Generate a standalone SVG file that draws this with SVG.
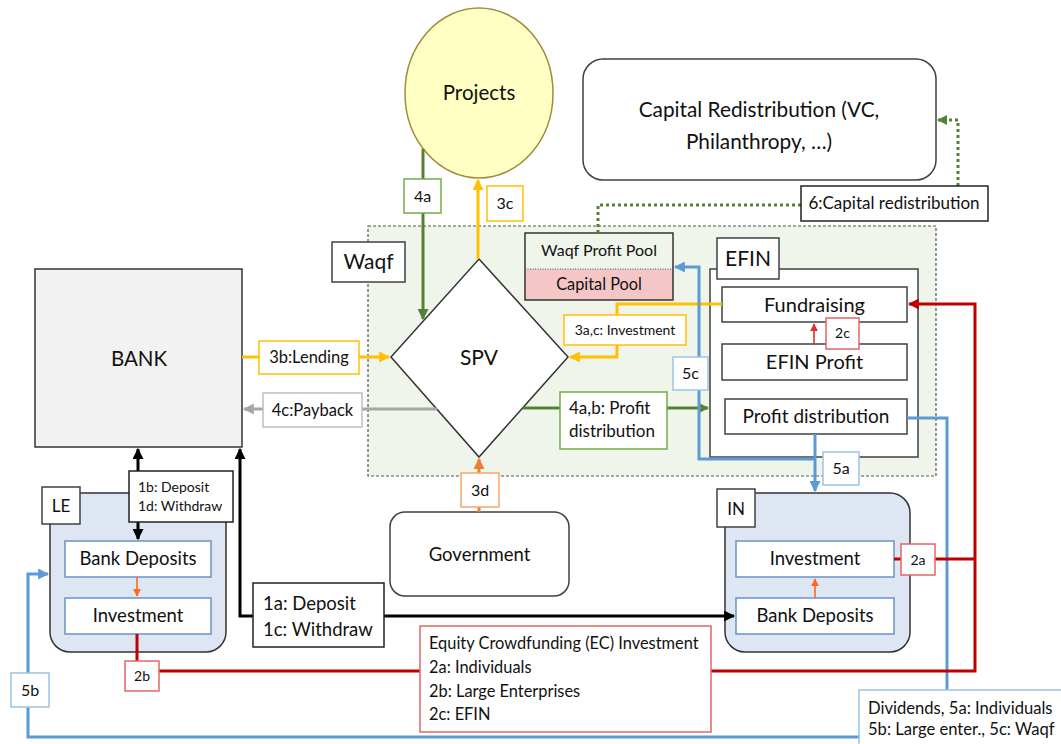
<svg xmlns="http://www.w3.org/2000/svg" width="1061" height="744" viewBox="0 0 1061 744">
  <style>
    text { font-family: Lato, "Liberation Sans", sans-serif; fill: #111; }
    .c { text-anchor: middle; }
    .box { fill: #fff; stroke: #404040; stroke-width: 1.5; }
    .inbox { fill: #fff; stroke: #6A93C8; stroke-width: 1.5; }
    .lbl-y { fill: #fff; stroke: #FFC000; stroke-width: 1.5; }
    .lbl-g { fill: #fff; stroke: #70AD47; stroke-width: 1.5; }
    .lbl-gr { fill: #fff; stroke: #BFBFBF; stroke-width: 1.5; }
    .lbl-b { fill: #fff; stroke: #9DC3E6; stroke-width: 1.5; }
    .lbl-r { fill: #fff; stroke: #E06666; stroke-width: 1.5; }
    .lbl-o { fill: #fff; stroke: #F4A66A; stroke-width: 1.5; }
    .lbl-k { fill: #fff; stroke: #222; stroke-width: 1.5; }
    .ln { fill: none; stroke-width: 3; }
  </style>
  <defs>
    <marker id="ah-y" viewBox="0 0 10 10" refX="9" refY="5" markerWidth="11" markerHeight="11" markerUnits="userSpaceOnUse" orient="auto-start-reverse"><path d="M0,0 L10,5 L0,10 z" fill="#FFC000"/></marker>
    <marker id="ah-g" viewBox="0 0 10 10" refX="9" refY="5" markerWidth="11" markerHeight="11" markerUnits="userSpaceOnUse" orient="auto-start-reverse"><path d="M0,0 L10,5 L0,10 z" fill="#548235"/></marker>
    <marker id="ah-gr" viewBox="0 0 10 10" refX="9" refY="5" markerWidth="11" markerHeight="11" markerUnits="userSpaceOnUse" orient="auto-start-reverse"><path d="M0,0 L10,5 L0,10 z" fill="#A6A6A6"/></marker>
    <marker id="ah-b" viewBox="0 0 10 10" refX="9" refY="5" markerWidth="11" markerHeight="11" markerUnits="userSpaceOnUse" orient="auto-start-reverse"><path d="M0,0 L10,5 L0,10 z" fill="#5B9BD5"/></marker>
    <marker id="ah-r" viewBox="0 0 10 10" refX="9" refY="5" markerWidth="11" markerHeight="11" markerUnits="userSpaceOnUse" orient="auto-start-reverse"><path d="M0,0 L10,5 L0,10 z" fill="#C00000"/></marker>
    <marker id="ah-k" viewBox="0 0 10 10" refX="9" refY="5" markerWidth="11" markerHeight="11" markerUnits="userSpaceOnUse" orient="auto-start-reverse"><path d="M0,0 L10,5 L0,10 z" fill="#000"/></marker>
    <marker id="ah-o" viewBox="0 0 10 10" refX="9" refY="5" markerWidth="11" markerHeight="11" markerUnits="userSpaceOnUse" orient="auto-start-reverse"><path d="M0,0 L10,5 L0,10 z" fill="#ED7D31"/></marker>
    <marker id="ah-os" viewBox="0 0 10 10" refX="9" refY="5" markerWidth="8" markerHeight="8" markerUnits="userSpaceOnUse" orient="auto-start-reverse"><path d="M0,0 L10,5 L0,10 z" fill="#FF6A1A"/></marker>
    <marker id="ah-rs" viewBox="0 0 10 10" refX="9" refY="5" markerWidth="8" markerHeight="8" markerUnits="userSpaceOnUse" orient="auto-start-reverse"><path d="M0,0 L10,5 L0,10 z" fill="#E03030"/></marker>
    <marker id="ah-gd" viewBox="0 0 10 10" refX="9" refY="5" markerWidth="10" markerHeight="10" markerUnits="userSpaceOnUse" orient="auto-start-reverse"><path d="M0,0 L10,5 L0,10 z" fill="#548235"/></marker>
  </defs>

  <rect width="1061" height="744" fill="#fff"/>

  <!-- Waqf container -->
  <g id="waqf">
    <rect x="368" y="226" width="568" height="250" fill="#F0F5EC" stroke="#555" stroke-width="1.2" stroke-dasharray="3,2"/>
    <rect x="332" y="242" width="73" height="40" class="box"/>
    <text x="368.5" y="269" class="c" font-size="21">Waqf</text>
  </g>

  <g id="projects">
    <ellipse cx="479" cy="93" rx="74" ry="85" fill="#FFFFC4" stroke="#A08C3C" stroke-width="1.5"/>
    <text x="479" y="100" class="c" font-size="20.5">Projects</text>
  </g>

  <g id="capital-redistribution">
    <rect x="583" y="59" width="353" height="121" rx="20" class="box"/>
    <text x="759" y="117" class="c" font-size="20.8">Capital Redistribution (VC,</text>
    <text x="759" y="149" class="c" font-size="20.8">Philanthropy, …)</text>
  </g>

  <g id="bank">
    <rect x="35" y="269" width="207" height="178" fill="#F2F2F2" stroke="#333" stroke-width="1.5"/>
    <text x="139" y="366" class="c" font-size="20.5">BANK</text>
  </g>

  <g id="spv">
    <polygon points="479,259 568,357 479,457 391,357" fill="#fff" stroke="#333" stroke-width="1.5"/>
    <text x="479" y="365" class="c" font-size="21">SPV</text>
  </g>

  <g id="waqf-pools">
    <rect x="525" y="269" width="148" height="31" fill="#F4C6C6"/>
    <rect x="525" y="233" width="148" height="67" fill="none" stroke="#333" stroke-width="1.5"/>
    <line x1="525" y1="269" x2="673" y2="269" stroke="#555" stroke-width="1" stroke-dasharray="1,1.5"/>
    <text x="599" y="256" class="c" font-size="16">Waqf Profit Pool</text>
    <text x="599" y="290" class="c" font-size="16.3">Capital Pool</text>
  </g>

  <g id="efin">
    <rect x="710" y="269" width="208" height="188" class="box"/>
    <rect x="717" y="238" width="62" height="41" class="box"/>
    <text x="748" y="266" class="c" font-size="21">EFIN</text>
    <rect x="722" y="287" width="185" height="35" class="box"/>
    <text x="814.5" y="312" class="c" font-size="20">Fundraising</text>
    <rect x="722" y="344" width="185" height="36" class="box"/>
    <text x="814.5" y="369" class="c" font-size="20">EFIN Profit</text>
    <rect x="725" y="399" width="182" height="35" class="box"/>
    <text x="816" y="423" class="c" font-size="19">Profit distribution</text>
  </g>

  <g id="le">
    <rect x="50" y="493" width="176" height="159" rx="20" fill="#DFE6F3" stroke="#333" stroke-width="1.5"/>
    <rect x="65" y="541" width="146" height="36" class="inbox"/>
    <text x="138" y="565" class="c" font-size="18.5">Bank Deposits</text>
    <rect x="65" y="598" width="146" height="36" class="inbox"/>
    <text x="138" y="622" class="c" font-size="18.5">Investment</text>
  </g>

  <g id="in">
    <rect x="725" y="493" width="185" height="159" rx="20" fill="#DFE6F3" stroke="#333" stroke-width="1.5"/>
    <rect x="736" y="541" width="158" height="36" class="inbox"/>
    <text x="815" y="565" class="c" font-size="18.5">Investment</text>
    <rect x="736" y="598" width="158" height="36" class="inbox"/>
    <text x="815" y="622" class="c" font-size="18.5">Bank Deposits</text>
  </g>

  <g id="government">
    <rect x="390" y="512" width="179" height="84" rx="15" class="box"/>
    <text x="479.5" y="561" class="c" font-size="18.5">Government</text>
  </g>

  <!-- connectors -->
  <g id="connectors">
    <path class="ln" d="M423,149 V319" stroke="#548235" marker-end="url(#ah-g)"/>
    <path class="ln" d="M478,259 V180" stroke="#FFC000" marker-end="url(#ah-y)"/>
    <path class="ln" d="M242,357 H389" stroke="#FFC000" marker-end="url(#ah-y)"/>
    <path class="ln" d="M722,304 H617 V357 H570" stroke="#FFC000" marker-end="url(#ah-y)"/>
    <path class="ln" d="M437,409 H244" stroke="#A6A6A6" marker-end="url(#ah-gr)"/>
    <path class="ln" d="M523,408 H708" stroke="#548235" marker-end="url(#ah-g)"/>
    <path class="ln" d="M479,512 V459" stroke="#ED7D31" marker-end="url(#ah-o)"/>
    <path class="ln" d="M598,233 V205 H801" stroke="#548235" stroke-dasharray="3,3"/>
    <path class="ln" d="M958,186 V120 H938" stroke="#548235" stroke-dasharray="3,3" marker-end="url(#ah-gd)"/>
    <path class="ln" d="M815,434 V491" stroke="#5B9BD5" marker-end="url(#ah-b)"/>
    <path class="ln" d="M815,459 H699 V267 H675" stroke="#5B9BD5" marker-end="url(#ah-b)"/>
    <path class="ln" d="M907,418 H947 V690" stroke="#5B9BD5"/>
    <path class="ln" d="M859,737 H28 V574 H48" stroke="#5B9BD5" marker-end="url(#ah-b)"/>
    <path class="ln" d="M137,634 V671 H975 V304 H909" stroke="#C00000" marker-end="url(#ah-r)"/>
    <path class="ln" d="M894,559 H975" stroke="#C00000"/>
    <path fill="none" stroke="#E03030" stroke-width="1.6" d="M814,344 V324" marker-end="url(#ah-rs)"/>
    <path fill="none" stroke="#FF6A1A" stroke-width="1.6" d="M137,577 V596" marker-end="url(#ah-os)"/>
    <path fill="none" stroke="#FF6A1A" stroke-width="1.6" d="M815,598 V579" marker-end="url(#ah-os)"/>
    <path class="ln" d="M138,449 V539" stroke="#000" marker-start="url(#ah-k)" marker-end="url(#ah-k)"/>
    <path class="ln" d="M240,449 V616 H734" stroke="#000" marker-start="url(#ah-k)" marker-end="url(#ah-k)"/>
  </g>

  <!-- connector labels -->
  <g id="connector-labels">
    <rect x="404" y="179" width="37" height="34" class="lbl-g"/>
    <text x="422.5" y="202" class="c" font-size="16">4a</text>
    <rect x="487" y="186" width="36" height="35" class="lbl-y"/>
    <text x="505" y="209" class="c" font-size="16">3c</text>
    <rect x="259" y="341" width="100" height="33" class="lbl-y"/>
    <text x="309" y="363" class="c" font-size="16.5">3b:Lending</text>
    <rect x="263" y="393" width="99" height="34" class="lbl-gr"/>
    <text x="312.5" y="416" class="c" font-size="16.5">4c:Payback</text>
    <rect x="564" y="315" width="122" height="30" class="lbl-y"/>
    <text x="625" y="335" class="c" font-size="14">3a,c: Investment</text>
    <rect x="560" y="392" width="107" height="57" class="lbl-g"/>
    <text x="569" y="414" font-size="17">4a,b: Profit</text>
    <text x="569" y="437" font-size="17">distribution</text>
    <rect x="801" y="186" width="187" height="35" class="lbl-k"/>
    <text x="894" y="209" class="c" font-size="17">6:Capital redistribution</text>
    <rect x="826" y="318" width="33" height="31" class="lbl-r"/>
    <text x="842.5" y="338" class="c" font-size="14">2c</text>
    <rect x="673" y="357" width="35" height="33" class="lbl-b"/>
    <text x="690.5" y="379" class="c" font-size="16">5c</text>
    <rect x="823" y="452" width="36" height="33" class="lbl-b"/>
    <text x="841" y="474" class="c" font-size="16">5a</text>
    <rect x="461" y="473" width="38" height="34" class="lbl-o"/>
    <text x="480" y="496" class="c" font-size="16">3d</text>
    <rect x="129" y="471" width="104" height="51" class="lbl-k"/>
    <text x="138" y="492" font-size="14">1b: Deposit</text>
    <text x="138" y="511" font-size="14">1d: Withdraw</text>
    <rect x="125" y="661" width="34" height="30" class="lbl-r"/>
    <text x="142" y="681" class="c" font-size="14">2b</text>
    <rect x="253" y="583" width="131" height="64" class="lbl-k"/>
    <text x="263" y="610" font-size="18.5">1a: Deposit</text>
    <text x="263" y="636" font-size="18.5">1c: Withdraw</text>
    <rect x="11" y="673" width="38" height="34" class="lbl-b"/>
    <text x="30" y="696" class="c" font-size="16">5b</text>
    <rect x="901" y="544" width="34" height="31" class="lbl-r"/>
    <text x="918" y="565" class="c" font-size="14">2a</text>
    <rect x="420" y="626" width="291" height="106" class="lbl-r"/>
    <text x="429" y="649" font-size="16.4">Equity Crowdfunding (EC) Investment</text>
    <text x="429" y="673" font-size="16.4">2a: Individuals</text>
    <text x="429" y="697" font-size="16.4">2b: Large Enterprises</text>
    <text x="429" y="720" font-size="16.4">2c: EFIN</text>
    <rect x="859" y="690" width="205" height="58" class="lbl-b"/>
    <text x="868" y="714" font-size="16.6">Dividends, 5a: Individuals</text>
    <text x="868" y="735" font-size="16.6">5b: Large enter., 5c: Waqf</text>
  </g>

  <!-- container labels drawn above their connectors -->
  <g id="le-label">
    <rect x="42" y="487" width="38" height="37" class="box"/>
    <text x="61" y="512" class="c" font-size="17">LE</text>
  </g>
  <g id="in-label">
    <rect x="717" y="489" width="38" height="38" class="box"/>
    <text x="736" y="515" class="c" font-size="17">IN</text>
  </g>
</svg>
